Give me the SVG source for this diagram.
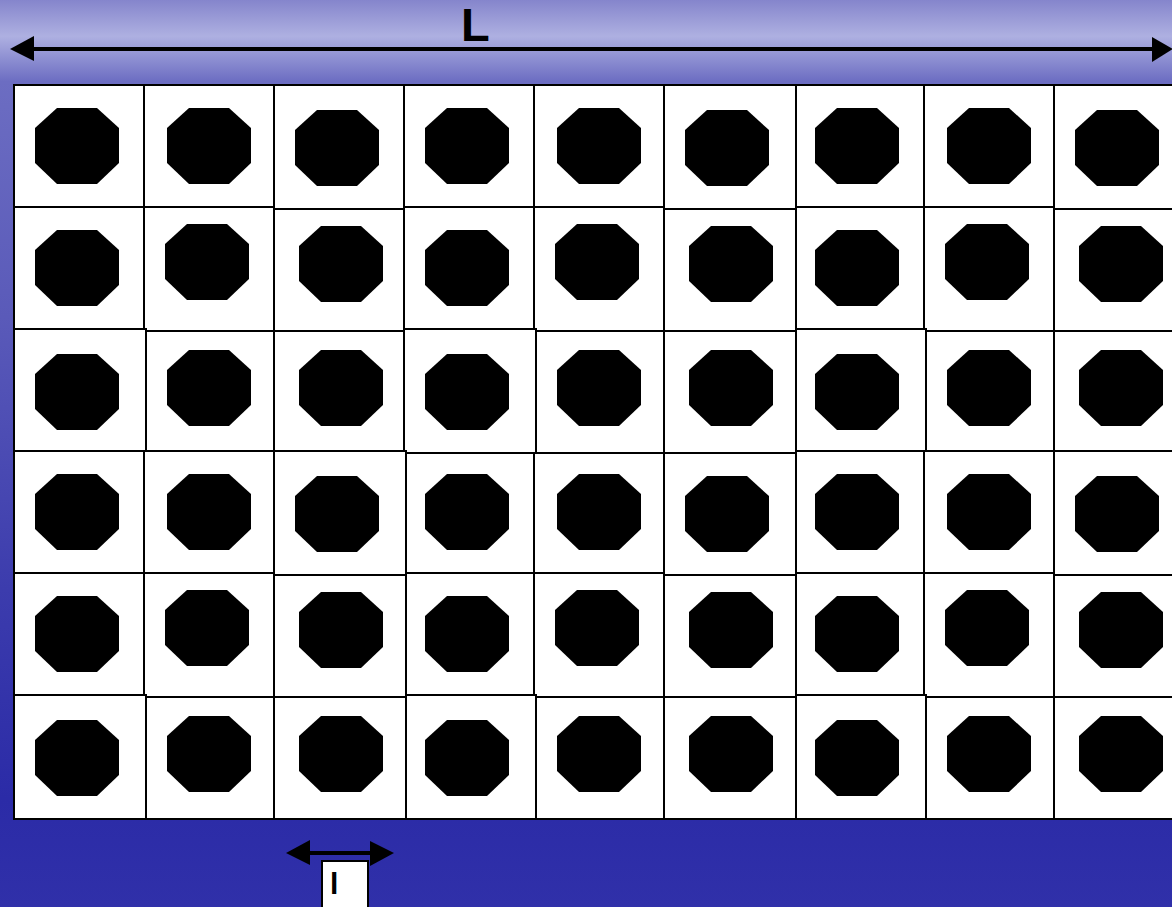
<svg xmlns="http://www.w3.org/2000/svg" xmlns:xlink="http://www.w3.org/1999/xlink" width="1172" height="907" viewBox="0 0 1172 907">
<defs>
<linearGradient id="bg" x1="0" y1="0" x2="0" y2="1">
<stop offset="0" stop-color="#8585cc"/>
<stop offset="0.04" stop-color="#aeb0e1"/>
<stop offset="0.09" stop-color="#6c6dc2"/>
<stop offset="0.35" stop-color="#5a5ab9"/>
<stop offset="0.65" stop-color="#3c3cad"/>
<stop offset="0.88" stop-color="#2b2ba7"/>
<stop offset="1" stop-color="#3030a9"/>
</linearGradient>
<polygon id="oct" points="22,0 62,0 84,20 84,55 62,76 22,76 0,55 0,20" fill="#000"/>
</defs>
<style>
.cell{fill:#fff;stroke:#000;stroke-width:2}
.lbl{font-family:"Liberation Sans",Arial,sans-serif;font-weight:bold;fill:#000}
.dim{stroke:#000;stroke-width:4}
.head{fill:#000}
</style>
<rect x="0" y="0" width="1172" height="907" fill="url(#bg)"/>

<g id="grid">
<g id="r1c1"><rect class="cell" x="14" y="85" width="130" height="122"/><use href="#oct" x="35" y="108"/></g>
<g id="r1c2"><rect class="cell" x="144" y="85" width="130" height="122"/><use href="#oct" x="167" y="108"/></g>
<g id="r1c3"><rect class="cell" x="274" y="85" width="130" height="124"/><use href="#oct" x="295" y="110"/></g>
<g id="r1c4"><rect class="cell" x="404" y="85" width="130" height="122"/><use href="#oct" x="425" y="108"/></g>
<g id="r1c5"><rect class="cell" x="534" y="85" width="130" height="122"/><use href="#oct" x="557" y="108"/></g>
<g id="r1c6"><rect class="cell" x="664" y="85" width="132" height="124"/><use href="#oct" x="685" y="110"/></g>
<g id="r1c7"><rect class="cell" x="796" y="85" width="128" height="122"/><use href="#oct" x="815" y="108"/></g>
<g id="r1c8"><rect class="cell" x="924" y="85" width="130" height="122"/><use href="#oct" x="947" y="108"/></g>
<g id="r1c9"><rect class="cell" x="1054" y="85" width="132" height="124"/><use href="#oct" x="1075" y="110"/></g>

<g id="r2c1"><rect class="cell" x="14" y="207" width="130" height="122"/><use href="#oct" x="35" y="230"/></g>
<g id="r2c2"><rect class="cell" x="144" y="207" width="130" height="124"/><use href="#oct" x="165" y="224"/></g>
<g id="r2c3"><rect class="cell" x="274" y="209" width="130" height="122"/><use href="#oct" x="299" y="226"/></g>
<g id="r2c4"><rect class="cell" x="404" y="207" width="130" height="122"/><use href="#oct" x="425" y="230"/></g>
<g id="r2c5"><rect class="cell" x="534" y="207" width="130" height="124"/><use href="#oct" x="555" y="224"/></g>
<g id="r2c6"><rect class="cell" x="664" y="209" width="132" height="122"/><use href="#oct" x="689" y="226"/></g>
<g id="r2c7"><rect class="cell" x="796" y="207" width="128" height="122"/><use href="#oct" x="815" y="230"/></g>
<g id="r2c8"><rect class="cell" x="924" y="207" width="130" height="124"/><use href="#oct" x="945" y="224"/></g>
<g id="r2c9"><rect class="cell" x="1054" y="209" width="132" height="122"/><use href="#oct" x="1079" y="226"/></g>

<g id="r3c1"><rect class="cell" x="14" y="329" width="132" height="122"/><use href="#oct" x="35" y="354"/></g>
<g id="r3c2"><rect class="cell" x="146" y="331" width="128" height="120"/><use href="#oct" x="167" y="350"/></g>
<g id="r3c3"><rect class="cell" x="274" y="331" width="130" height="120"/><use href="#oct" x="299" y="350"/></g>
<g id="r3c4"><rect class="cell" x="404" y="329" width="132" height="124"/><use href="#oct" x="425" y="354"/></g>
<g id="r3c5"><rect class="cell" x="536" y="331" width="128" height="122"/><use href="#oct" x="557" y="350"/></g>
<g id="r3c6"><rect class="cell" x="664" y="331" width="132" height="122"/><use href="#oct" x="689" y="350"/></g>
<g id="r3c7"><rect class="cell" x="796" y="329" width="130" height="122"/><use href="#oct" x="815" y="354"/></g>
<g id="r3c8"><rect class="cell" x="926" y="331" width="128" height="120"/><use href="#oct" x="947" y="350"/></g>
<g id="r3c9"><rect class="cell" x="1054" y="331" width="132" height="120"/><use href="#oct" x="1079" y="350"/></g>

<g id="r4c1"><rect class="cell" x="14" y="451" width="130" height="122"/><use href="#oct" x="35" y="474"/></g>
<g id="r4c2"><rect class="cell" x="144" y="451" width="130" height="122"/><use href="#oct" x="167" y="474"/></g>
<g id="r4c3"><rect class="cell" x="274" y="451" width="132" height="124"/><use href="#oct" x="295" y="476"/></g>
<g id="r4c4"><rect class="cell" x="406" y="453" width="128" height="120"/><use href="#oct" x="425" y="474"/></g>
<g id="r4c5"><rect class="cell" x="534" y="453" width="130" height="120"/><use href="#oct" x="557" y="474"/></g>
<g id="r4c6"><rect class="cell" x="664" y="453" width="132" height="122"/><use href="#oct" x="685" y="476"/></g>
<g id="r4c7"><rect class="cell" x="796" y="451" width="128" height="122"/><use href="#oct" x="815" y="474"/></g>
<g id="r4c8"><rect class="cell" x="924" y="451" width="130" height="122"/><use href="#oct" x="947" y="474"/></g>
<g id="r4c9"><rect class="cell" x="1054" y="451" width="132" height="124"/><use href="#oct" x="1075" y="476"/></g>

<g id="r5c1"><rect class="cell" x="14" y="573" width="130" height="122"/><use href="#oct" x="35" y="596"/></g>
<g id="r5c2"><rect class="cell" x="144" y="573" width="130" height="124"/><use href="#oct" x="165" y="590"/></g>
<g id="r5c3"><rect class="cell" x="274" y="575" width="132" height="122"/><use href="#oct" x="299" y="592"/></g>
<g id="r5c4"><rect class="cell" x="406" y="573" width="128" height="122"/><use href="#oct" x="425" y="596"/></g>
<g id="r5c5"><rect class="cell" x="534" y="573" width="130" height="124"/><use href="#oct" x="555" y="590"/></g>
<g id="r5c6"><rect class="cell" x="664" y="575" width="132" height="122"/><use href="#oct" x="689" y="592"/></g>
<g id="r5c7"><rect class="cell" x="796" y="573" width="128" height="122"/><use href="#oct" x="815" y="596"/></g>
<g id="r5c8"><rect class="cell" x="924" y="573" width="130" height="124"/><use href="#oct" x="945" y="590"/></g>
<g id="r5c9"><rect class="cell" x="1054" y="575" width="132" height="122"/><use href="#oct" x="1079" y="592"/></g>

<g id="r6c1"><rect class="cell" x="14" y="695" width="132" height="124"/><use href="#oct" x="35" y="720"/></g>
<g id="r6c2"><rect class="cell" x="146" y="697" width="128" height="122"/><use href="#oct" x="167" y="716"/></g>
<g id="r6c3"><rect class="cell" x="274" y="697" width="132" height="122"/><use href="#oct" x="299" y="716"/></g>
<g id="r6c4"><rect class="cell" x="406" y="695" width="130" height="124"/><use href="#oct" x="425" y="720"/></g>
<g id="r6c5"><rect class="cell" x="536" y="697" width="128" height="122"/><use href="#oct" x="557" y="716"/></g>
<g id="r6c6"><rect class="cell" x="664" y="697" width="132" height="122"/><use href="#oct" x="689" y="716"/></g>
<g id="r6c7"><rect class="cell" x="796" y="695" width="130" height="124"/><use href="#oct" x="815" y="720"/></g>
<g id="r6c8"><rect class="cell" x="926" y="697" width="128" height="122"/><use href="#oct" x="947" y="716"/></g>
<g id="r6c9"><rect class="cell" x="1054" y="697" width="132" height="122"/><use href="#oct" x="1079" y="716"/></g>
</g>

<g id="connectors">
<line class="dim" x1="30" y1="49" x2="1156" y2="49"/>
<polygon class="head" points="10,49 34,36 34,61"/>
<polygon class="head" points="1173,49 1152,37 1152,62"/>
<line class="dim" x1="306" y1="853" x2="374" y2="853"/>
<polygon class="head" points="286,853 310,840 310,865"/>
<polygon class="head" points="394,853 370,841 370,866"/>
</g>

<g id="label-L">
<text class="lbl" x="461" y="41" font-size="47">L</text>
</g>
<g id="label-l">
<rect x="322" y="861" width="46" height="50" fill="#fff" stroke="#000" stroke-width="2"/>
<text class="lbl" x="330" y="894" font-size="30">l</text>
</g>
</svg>
